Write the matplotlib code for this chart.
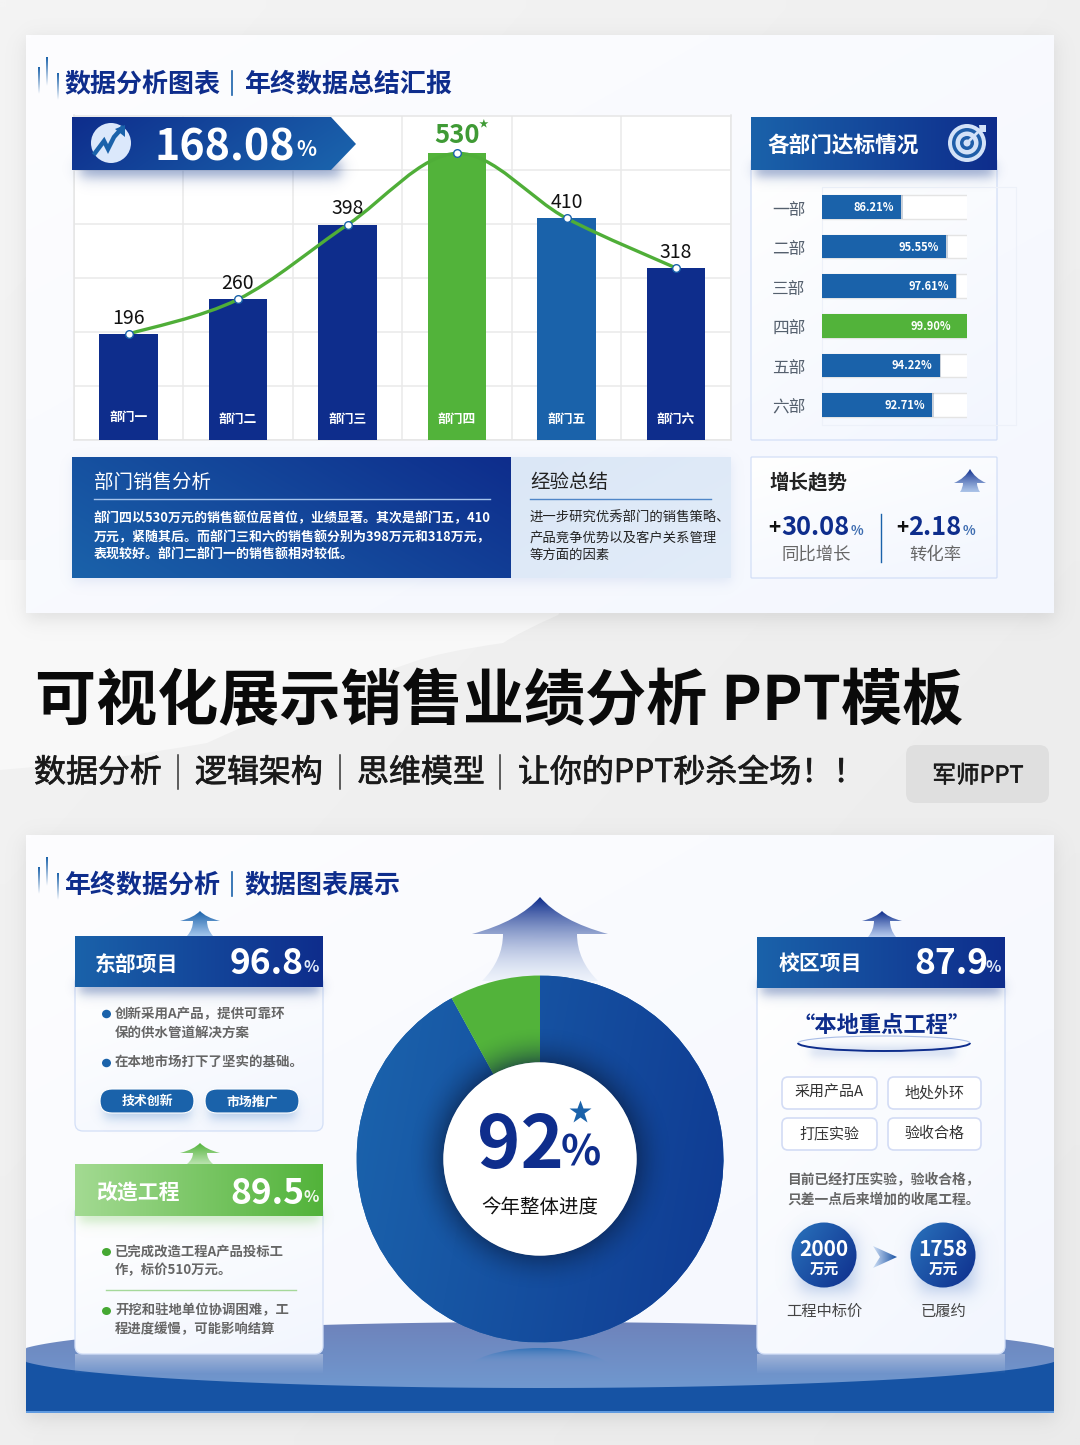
import numpy as np
import matplotlib
matplotlib.use("Agg")
import matplotlib.pyplot as plt
import matplotlib.patheffects as pe
from matplotlib.colors import to_rgba
from matplotlib.patches import Rectangle, Circle, Ellipse, Arc, FancyBboxPatch, PathPatch, Polygon
from matplotlib.path import Path
from matplotlib.transforms import ScaledTranslation

plt.rcParams['font.family'] = ['Noto Sans CJK SC', 'DejaVu Sans']

W, H = 1080, 1445

NAVY = '#0e2d8c'
BLUE = '#1a62aa'
GREEN = '#52b33a'
BORDER = '#d3dff7'

# sales chart
depts = ['部门一', '部门二', '部门三', '部门四', '部门五', '部门六']
sales = [196, 260, 398, 530, 410, 318]
bar_cols = [NAVY, NAVY, NAVY, GREEN, BLUE, NAVY]

# target rates
rate_names = ['一部', '二部', '三部', '四部', '五部', '六部']
rates = [86.21, 95.55, 97.61, 99.90, 94.22, 92.71]

# donut
progress = [92, 8]

sales_lines = ['部门四以530万元的销售额位居首位，业绩显著。其次是部门五，410',
               '万元，紧随其后。而部门三和六的销售额分别为398万元和318万元，',
               '表现较好。部门二部门一的销售额相对较低。']
summary_lines = ['进一步研究优秀部门的销售策略、',
                 '产品竞争优势以及客户关系管理',
                 '等方面的因素']
east_lines = ['创新采用A产品，提供可靠环', '保的供水管道解决方案', '在本地市场打下了坚实的基础。']
rebuild_lines = ['已完成改造工程A产品投标工', '作，标价510万元。', '开挖和驻地单位协调困难，工', '程进度缓慢，可能影响结算']
campus_tags = ['采用产品A', '地处外环', '打压实验', '验收合格']
campus_lines = ['目前已经打压实验，验收合格，', '只差一点后来增加的收尾工程。']


def px_axes(x0, y0, x1, y1, z):
    return fig.add_axes([x0 / W, 1 - y1 / H, (x1 - x0) / W, (y1 - y0) / H], zorder=z)


def grad(ax, x0, y0, x1, y1, c0, c1, angle=0, clip=None, z=1):
    # angle 0 = left to right, 90 = top to bottom
    n = 96
    v, u = np.mgrid[0:1:n * 1j, 0:1:n * 1j]
    a = np.radians(angle)
    t = u * np.cos(a) + v * np.sin(a)
    t = (t - t.min()) / (t.max() - t.min())
    c0, c1 = np.array(to_rgba(c0)), np.array(to_rgba(c1))
    img = c0 + (c1 - c0) * t[..., None]
    im = ax.imshow(img, extent=(x0, x1, y1, y0), origin='upper', aspect='auto', zorder=z, interpolation='bilinear')
    if clip is not None:
        im.set_clip_path(clip)
    return im


def shadow(ax, x0, y0, x1, y1, blur=10, color='#1a3f8f', alpha=0.3, z=1):
    m = blur * 2
    xs = np.arange(x0 - m, x1 + m, 1.0)
    ys = np.arange(y0 - m, y1 + m, 1.0)
    sig = lambda d: 1 / (1 + np.exp(-d / (blur / 3.0)))
    ax_ = np.outer(sig(ys - y0) * sig(y1 - ys), sig(xs - x0) * sig(x1 - xs))
    img = np.zeros(ax_.shape + (4,))
    img[..., :3] = to_rgba(color)[:3]
    img[..., 3] = ax_ * alpha
    ax.imshow(img, extent=(x0 - m, x1 + m, y1 + m, y0 - m), origin='upper', aspect='auto', zorder=z)


def rbox(ax, x0, y0, x1, y1, r=6, fc='white', ec='none', lw=1, z=2):
    p = FancyBboxPatch((x0, y0), x1 - x0, y1 - y0, boxstyle='round,pad=0,rounding_size=%g' % r,
                       fc=fc, ec=ec, lw=lw, zorder=z)
    ax.add_patch(p)
    return p


def txt(x, y, s, size, color='#222222', weight='normal', ha='left', stroke=0):
    t = fg.text(x, y + .13 * size, s, fontsize=size, color=color, fontweight=weight, ha=ha, va='center', zorder=20)
    if stroke:
        t.set_path_effects([pe.withStroke(linewidth=stroke, foreground=color)])


def up_arrow(ax, cx, yt, yh, yb, wing, s0, s1, c0, c1, z=4):
    verts = [(cx, yt), (cx + wing * .3, yh - (yh - yt) * .35), (cx + wing, yh), (cx + s0, yh),
             (cx + s0, yh + (yb - yh) * .55), (cx + s1, yb), (cx - s1, yb),
             (cx - s0, yh + (yb - yh) * .55), (cx - s0, yh), (cx - wing, yh),
             (cx - wing * .3, yh - (yh - yt) * .35), (cx, yt), (cx, yt)]
    codes = [Path.MOVETO, Path.CURVE3, Path.CURVE3, Path.LINETO, Path.CURVE3, Path.CURVE3, Path.LINETO,
             Path.CURVE3, Path.CURVE3, Path.LINETO, Path.CURVE3, Path.CURVE3, Path.CLOSEPOLY]
    p = PathPatch(Path(verts, codes), fc='none', ec='none', zorder=z)
    ax.add_patch(p)
    grad(ax, cx - wing, yt, cx + wing, yb, c0, c1, angle=90, clip=p, z=z)


def title_ticks(ax, dy):
    for x, y0, y1 in [(39, 67, 94), (47, 57, 86), (58, 73, 100)]:
        r = Rectangle((x - 1, y0 + dy), 2, y1 - y0, fc='none', ec='none')
        ax.add_patch(r)
        grad(ax, x - 1, y0 + dy, x + 1, y1 + dy, '#1a62aa', (0.1, 0.38, 0.67, 0), angle=90, clip=r, z=3)


def card_header(ax, x0, y0, x1, y1, c0, c1, sh='#1a3f8f'):
    shadow(ax, x0 + 4, y1 - 8, x1 - 4, y1 + 6, blur=10, color=sh, alpha=.45, z=3)
    grad(ax, x0, y0, x1, y1, c0, c1, z=4)


def card_body(ax, x0, y0, x1, y1, r=8):
    b = rbox(ax, x0, y0, x1, y1, r=r, fc='none', ec=BORDER, lw=.9, z=2)
    grad(ax, x0, y0, x1, y1, '#ffffff', '#f2f6fe', angle=60, clip=b, z=1.9)


fig = plt.figure(figsize=(W / 100, H / 100), dpi=100)

bg = fig.add_axes([0, 0, 1, 1], zorder=0)
fg = fig.add_axes([0, 0, 1, 1], zorder=5)
for a in (bg, fg):
    a.set_xlim(0, W)
    a.set_ylim(H, 0)
    a.set_autoscale_on(False)
    a.axis('off')
fg.patch.set_alpha(0)

# page background with the lighter swoop
grad(bg, 0, 0, W, H, '#f4f4f4', '#ebebeb', angle=50, z=0)
sw = Path([(0, 560), (600, 560), (558, 615), (520, 632), (503, 643), (440, 652), (413, 662),
           (300, 700), (207, 743), (100, 762), (0, 770), (0, 560)],
          [Path.MOVETO, Path.LINETO, Path.LINETO, Path.CURVE3, Path.CURVE3, Path.CURVE3, Path.CURVE3,
           Path.CURVE3, Path.CURVE3, Path.CURVE3, Path.CURVE3, Path.CLOSEPOLY])
bg.add_patch(PathPatch(sw, fc='#f8f8f8', ec='none', zorder=0.5))

# two white panels
for y0, y1 in [(35, 613), (835, 1413)]:
    shadow(bg, 26, y0 + 4, 1054, y1 + 6, blur=16, color='#888888', alpha=.22, z=0.6)
    grad(bg, 26, y0, 1054, y1, '#fdfdff', '#f4f7fe', angle=45, z=0.7)

# bottom band and ellipse of lower panel, ellipse is cut at the panel sides
bg.add_patch(Rectangle((26, 1352), 1028, 61, fc='#1653a4', ec='none', zorder=0.8))
bg.add_patch(Rectangle((26, 1411), 1028, 2, fc='#5f9ae0', ec='none', zorder=0.85))
tt = np.linspace(0, 2 * np.pi, 300)
ell = Polygon(np.c_[np.clip(540 + 526 * np.cos(tt), 26, 1054), 1355 + 33 * np.sin(tt)], fc='none', ec='none', zorder=0.9)
bg.add_patch(ell)
grad(bg, 26, 1322, 1054, 1388, '#6e83bb', '#7098cf', angle=90, clip=ell, z=0.9)
# soft reflections
grad(bg, 75, 1354, 323, 1374, (1, 1, 1, .35), (1, 1, 1, 0), angle=90, z=0.95)
grad(bg, 757, 1354, 1005, 1374, (1, 1, 1, .35), (1, 1, 1, 0), angle=90, z=0.95)
lens = Ellipse((540, 1372), 146, 48, fc='none', ec='none', zorder=0.95)
bg.add_patch(lens)
grad(bg, 467, 1348, 613, 1364, '#3473b8', (0.43, 0.6, 0.81, 0), angle=90, clip=lens, z=0.95)

title_ticks(bg, 0)
title_ticks(bg, 800)

# ---- sales chart
ax = px_axes(73.75, 115.5, 730.75, 440, 1)
xs = np.arange(len(sales))
ax.bar(xs, sales, width=.53, color=bar_cols, zorder=3)
ax.set_xlim(-.5, 5.5)
ax.set_ylim(0, 600)
ax.set_xticks(np.arange(-.5, 6, 1))
ax.set_yticks(range(0, 601, 100))
ax.tick_params(length=0, labelbottom=False, labelleft=False)
ax.grid(True, color='#e9e9e9', lw=1.1, zorder=0)
for s in ax.spines.values():
    s.set_color('#e6e6e6')
    s.set_linewidth(1.1)

verts = [(xs[0], sales[0])]
codes = [Path.MOVETO]
for i in range(len(sales) - 1):
    a_ = np.array([xs[max(i - 1, 0)], sales[max(i - 1, 0)]], float)
    b_ = np.array([xs[i], sales[i]], float)
    c_ = np.array([xs[i + 1], sales[i + 1]], float)
    d_ = np.array([xs[min(i + 2, 5)], sales[min(i + 2, 5)]], float)
    verts += [tuple(b_ + (c_ - a_) / 6), tuple(c_ - (d_ - b_) / 6), tuple(c_)]
    codes += [Path.CURVE4] * 3
ax.add_patch(PathPatch(Path(verts, codes), fc='none', ec='#4fae38', lw=2.4, zorder=4))
ax.plot(xs, sales, 'o', mfc='white', mec=BLUE, mew=1, ms=5.5, zorder=5)
for i, v in enumerate(sales):
    big = v == max(sales)
    ax.annotate(str(v), (i, v), xytext=(0, 13 if big else 11.5), textcoords='offset points', ha='center', va='center',
                fontsize=18.5 if big else 14, color='#3f9a35' if big else '#111111',
                fontweight='bold' if big else 'normal', zorder=6)
    ax.annotate(depts[i], (i, 0), xytext=(0, 16.5 if i == 0 else 14.5), textcoords='offset points', ha='center',
                va='center', fontsize=9.2, color='white', fontweight='bold', zorder=6)
    if big:
        ax.annotate('★', (i, v), xytext=(19, 21), textcoords='offset points', ha='center', va='center',
                    fontsize=7, color='#3f9a35', zorder=6)

# banner over the chart
shadow(fg, 80, 160, 340, 176, blur=12, color='#1a3f8f', alpha=.5, z=1)
ban = Polygon([(72, 117), (331, 117), (356, 144), (331, 170), (72, 170)], fc='none', ec='none', zorder=2)
fg.add_patch(ban)
grad(fg, 72, 117, 356, 170, NAVY, '#1b66ae', angle=15, clip=ban, z=2)
fg.add_patch(Circle((111, 143), 20, fc='#dbe8fb', ec='none', zorder=3))
fg.plot([95, 104, 108, 114, 122], [153, 141, 149, 137, 128], color=BLUE, lw=3.2, zorder=4, solid_joinstyle='miter')
fg.add_patch(Polygon([(125, 125), (125, 137), (115, 129)], fc=BLUE, ec='none', zorder=4))
txt(155, 143, '168.08', 31, 'white', 'bold')
txt(296, 148, '%', 15, 'white', 'bold')

# ---- page titles
for y, a_s, b_s in [(83, '数据分析图表', '年终数据总结汇报'), (884, '年终数据分析', '数据图表展示')]:
    txt(64, y - 2, a_s, 18.7, NAVY, 'bold')
    txt(244, y - 2, b_s, 18.7, NAVY, 'bold')
    fg.plot([232, 232], [y - 12, y + 12], color=BLUE, lw=1.2)

# ---- target rates panel
card_body(bg, 751, 160, 997, 440, r=1)
bg.add_patch(Rectangle((822, 187), 194, 238, fc='none', ec='#edf1f9', lw=.8, zorder=3))
card_header(bg, 751, 117, 997, 170, BLUE, NAVY)
txt(768, 144, '各部门达标情况', 15.6, 'white', 'bold')
for r, c in [(19, '#d3e2f8'), (15, '#1f5ea9'), (11.5, '#d3e2f8'), (7, '#1f5ea9'), (3.5, '#d3e2f8')]:
    fg.add_patch(Circle((967, 143), r, fc=c, ec='none', zorder=3))
fg.plot([967, 982], [143, 128], color='#d3e2f8', lw=2, zorder=4)
fg.add_patch(Polygon([(979, 125), (986, 125), (986, 132), (980, 132)], fc='#d3e2f8', ec='none', zorder=4))

rx = px_axes(822, 187.2, 967, 424.8, 1)
rx.patch.set_alpha(0)
rows = np.arange(len(rates))
rx.barh(rows, [100] * 6, height=.6, color='white', edgecolor='#e4e4e4', lw=1, left=60, zorder=1)
rx.barh(rows, rates, height=.6, color=[GREEN if v == max(rates) else BLUE for v in rates], zorder=2)
rx.barh(rows, [.35] * 6, left=rates, height=.6, color='#6c7f9a', alpha=.35, zorder=2)
rx.set_ylim(5.5, -.5)
rx.set_xlim(69.7, 99.95)
rx.set_xticks([])
rx.set_yticks(rows, rate_names)
rx.tick_params(axis='y', length=0, pad=12, labelsize=12, labelcolor='#55606e')
down = ScaledTranslation(0, -.8 / 72, fig.dpi_scale_trans)
for lb in rx.get_yticklabels():
    lb.set_transform(lb.get_transform() + down)
for s in rx.spines.values():
    s.set_visible(False)
for i, v in enumerate(rates):
    rx.annotate('%.2f%%' % v, (v, i), xytext=(-11.5 if v == max(rates) else -5, -.4), textcoords='offset points',
                ha='right', va='center', fontsize=8, color='white', fontweight='bold', zorder=5)

# ---- text panels under the chart
shadow(bg, 72, 460, 731, 582, blur=10, color='#90a8d8', alpha=.2, z=1)
grad(bg, 72, 457, 511, 578, BLUE, NAVY, angle=-25, z=2)
grad(bg, 511, 457, 731, 578, '#dbe7f6', '#e2ecf9', angle=45, z=2)
txt(94, 481, '部门销售分析', 14, 'white')
bg.plot([94, 490], [499, 499], color='#a6c4ec', lw=1, zorder=3)
for y, s in zip([517, 536, 554], sales_lines):
    txt(94, y, s, 9.33, 'white', 'bold')
txt(530, 481, '经验总结', 14, '#222222')
bg.plot([530, 711], [499, 499], color='#4f86c8', lw=1, zorder=3)
for y, s in zip([517, 536, 554], summary_lines):
    txt(530, y, s, 9.6, '#222222')

# ---- growth panel
card_body(bg, 751, 457, 997, 578, r=1)
txt(769, 481, '增长趋势', 14, '#222222', 'bold')
up_arrow(fg, 970, 469, 483, 492, 16, 7, 10, NAVY, (0.55, 0.68, 0.88, .7))
txt(768, 526, '+', 15, '#111111', 'bold')
txt(781, 525, '30.08', 18.3, NAVY, 'bold')
txt(851, 530, '%', 9.5, '#3d6cb0', 'bold')
txt(816, 553, '同比增长', 12.5, '#666666', ha='center')
fg.plot([881, 881], [514, 562], color=BLUE, lw=1)
txt(896, 526, '+', 15, '#111111', 'bold')
txt(908, 525, '2.18', 18.3, NAVY, 'bold')
txt(963, 530, '%', 9.5, '#3d6cb0', 'bold')
txt(935, 553, '转化率', 12.5, '#666666', ha='center')

# ---- slogan block
txt(35, 697, '可视化展示销售业绩分析 PPT模板', 44, '#0a0a0a', 'bold')
for x, s in [(34, '数据分析'), (195, '逻辑架构'), (357, '思维模型'), (518, '让你的PPT秒杀全场！！')]:
    txt(x, 770, s, 23, '#1a1a1a', stroke=.5)
for x in (178, 340, 500):
    fg.plot([x, x], [755, 789], color='#333333', lw=1.1)
rbox(bg, 906, 745, 1049, 803, r=10, fc='#dfdfdf', z=1)
txt(978, 774, '军师PPT', 17, '#1a1a1a', ha='center', stroke=.4)

# ---- donut
dx = px_axes(356.5, 975.5, 723.5, 1342.5, 1)
wedges, _ = dx.pie(progress, startangle=90, counterclock=False, radius=1, colors=[BLUE, GREEN],
                   wedgeprops=dict(width=1 - 96.7 / 183.5))
dx.set_xlim(-1, 1)
dx.set_ylim(-1, 1)
dx.set_autoscale_on(False)
grad(dx, -1, 1, 1, -1, '#1b64ad', '#0f3a92', angle=10, clip=wedges[0], z=1.5)
wedges[1].set_zorder(1.6)
yy, xx = np.mgrid[1:-1:300j, -1:1:300j]
rr = np.hypot(xx, yy)
hole = 96.7 / 183.5
glow = np.zeros(rr.shape + (4,))
glow[..., :3] = to_rgba('#0a1f44')[:3]
glow[..., 3] = np.clip(1 - (rr - hole) / .2, 0, 1) ** 2 * .55 * (rr <= 1)
dx.imshow(glow, extent=(-1, 1, -1, 1), origin='upper', aspect='auto', zorder=2)
dx.add_patch(Circle((0, 0), hole, fc='white', ec='none', zorder=3))

up_arrow(bg, 540, 897, 934, 981, 68, 37, 58, NAVY, (0.8, 0.86, 0.95, .25), z=1)
txt(477, 1140, '92', 53, NAVY, 'bold')
txt(561, 1150, '%', 30, NAVY, 'bold')
fg.plot([580], [1112], marker='*', ms=17, color=BLUE, mec='none', zorder=8)
txt(540, 1206, '今年整体进度', 14, '#111111', ha='center')

# ---- east card
up_arrow(bg, 200, 911, 921, 936, 20, 7, 13, '#1a62aa', (0.6, 0.75, 0.92, .9))
card_body(bg, 75, 975, 323, 1131)
card_header(bg, 75, 936, 323, 987, BLUE, NAVY)
txt(95, 962, '东部项目', 15, 'white', 'bold')
txt(230, 960, '96.8', 25.5, 'white', 'bold')
txt(303, 966, '%', 11.5, '#dfe8f8', 'bold')
fg.add_patch(Ellipse((106.5, 1014), 9, 8.5, fc=BLUE, ec='none'))
fg.add_patch(Ellipse((106.5, 1063), 9, 8.5, fc=BLUE, ec='none'))
for y, s in zip([1013, 1032, 1061], east_lines):
    txt(115, y, s, 9.7, '#666666', 'bold')
for x0, x1, s in [(100, 194, '技术创新'), (205, 299, '市场推广')]:
    shadow(bg, x0 + 4, 1100, x1 - 4, 1118, blur=10, color='#4f86c8', alpha=.4, z=3)
    rbox(fg, x0, 1089, x1, 1113, r=12, fc=BLUE, ec='white', lw=.8, z=3)
    txt((x0 + x1) / 2, 1100, s, 9.3, 'white', 'bold', ha='center')

# ---- rebuild card
up_arrow(bg, 200, 1143, 1153, 1164, 20, 7, 13, GREEN, (0.7, 0.88, 0.65, .9))
card_body(bg, 75, 1205, 323, 1354)
card_header(bg, 75, 1164, 323, 1216, '#a3da92', GREEN, sh='#8fd07c')
txt(96, 1191, '改造工程', 15, 'white', 'bold')
txt(230, 1190, '89.5', 25.5, 'white', 'bold')
txt(303, 1196, '%', 11.5, '#f1f8ee', 'bold')
fg.add_patch(Ellipse((106.5, 1252), 9, 8, fc='#45a832', ec='none'))
fg.add_patch(Ellipse((106.5, 1311), 9, 8, fc='#45a832', ec='none'))
for y, s in zip([1250, 1269, 1309, 1328], rebuild_lines):
    txt(115, y, s, 9.6, '#666666', 'bold')
fg.plot([106, 296], [1290, 1290], color='#a5d89a', lw=1)

# ---- campus card
up_arrow(bg, 882, 911, 921, 937, 20, 8, 14, NAVY, (0.65, 0.75, 0.92, .8))
card_body(bg, 757, 975, 1005, 1354)
card_header(bg, 757, 937, 1005, 988, BLUE, NAVY)
txt(779, 962, '校区项目', 15, 'white', 'bold')
txt(914, 960, '87.9', 25.5, 'white', 'bold')
txt(986, 966, '%', 11.5, '#dfe8f8', 'bold')
txt(882, 1023, '“本地重点工程”', 16, NAVY, 'bold', ha='center')
shadow(bg, 810, 1046, 955, 1056, blur=8, color='#8aa5d8', alpha=.35, z=3)
fg.add_patch(Arc((884, 1043), 172, 16, theta1=0, theta2=180, color=NAVY, lw=1.4))
fg.add_patch(Arc((884, 1043), 172, 14, theta1=180, theta2=360, color='#a9bde6', lw=.8))
for (x0, x1, y0, y1), s in zip([(782, 877, 1077, 1109), (888, 981, 1077, 1109),
                                (782, 877, 1118, 1150), (888, 981, 1118, 1150)], campus_tags):
    rbox(fg, x0, y0, x1, y1, r=6, fc='white', ec='#d3dcf5', lw=1.2, z=3)
    txt((x0 + x1) / 2, (y0 + y1) / 2 - 1.5, s, 10.8, '#333333', ha='center')
for y, s in zip([1179, 1198], campus_lines):
    txt(787, y, s, 9.9, '#666666', 'bold')

for cx, n in [(824, '2000'), (943, '1758')]:
    shadow(fg, cx - 24, 1235, cx + 30, 1290, blur=16, color='#6d92cf', alpha=.5, z=2)
    c = Circle((cx, 1255), 32.5, fc='none', ec='none', zorder=3)
    fg.add_patch(c)
    grad(fg, cx - 33, 1222, cx + 33, 1288, '#2a74bd', NAVY, angle=35, clip=c, z=3)
    txt(cx, 1248, n, 15, 'white', 'bold', ha='center')
    txt(cx, 1268, '万元', 10.5, 'white', 'bold', ha='center')
chev = Polygon([(873, 1246), (897, 1257), (873, 1268), (880, 1257)], fc='none', ec='none', zorder=3)
fg.add_patch(chev)
grad(fg, 873, 1246, 897, 1268, '#cfe0f6', '#1a52a4', clip=chev, z=3)
txt(824, 1310, '工程中标价', 11, '#444444', ha='center')
txt(943, 1310, '已履约', 11, '#444444', ha='center')

fig.savefig('out.png', dpi=100)
